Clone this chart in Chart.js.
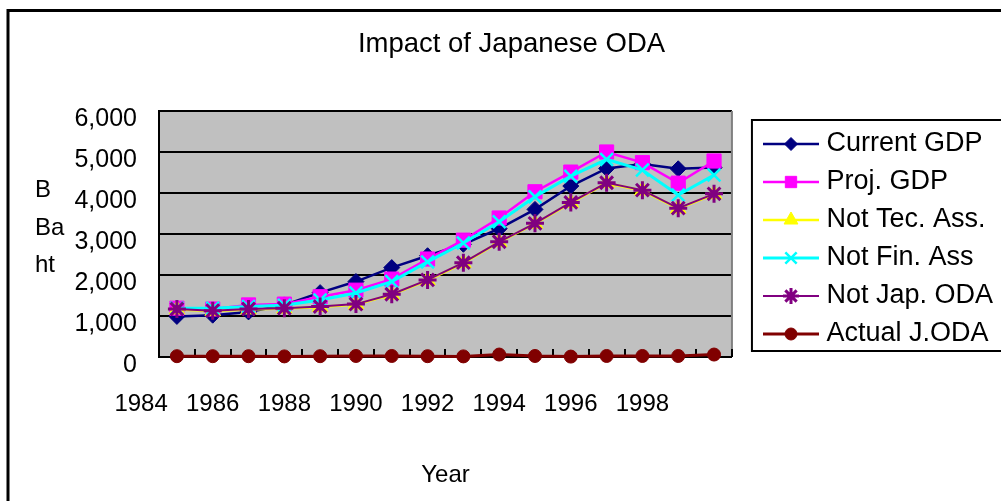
<!DOCTYPE html>
<html>
<head>
<meta charset="utf-8">
<title>Impact of Japanese ODA</title>
<script src="https://cdn.jsdelivr.net/npm/chart.js@4/dist/chart.umd.min.js"></script>
<style>
  html, body { margin: 0; padding: 0; background: #fff; overflow: hidden; }
  #wrap { position: absolute; left: 0; top: 0; width: 1022px; height: 520px; }
</style>
</head>
<body>
<div id="wrap"><canvas id="odaChart" width="1022" height="520"></canvas></div>
<script>
// data (Billion Baht)
var years = [1985, 1986, 1987, 1988, 1989, 1990, 1991, 1992, 1993, 1994, 1995, 1996, 1997, 1998, 1999, 2000];
var currentGDP = [990, 1020, 1100, 1270, 1570, 1840, 2180, 2470, 2750, 3130, 3600, 4170, 4600, 4710, 4590, 4620];
var projGDP = [1190, 1170, 1270, 1290, 1470, 1630, 1900, 2390, 2850, 3390, 4030, 4510, 5000, 4740, 4240, 4780];
var notTecAss = [1160, 1120, 1160, 1180, 1220, 1280, 1520, 1870, 2290, 2800, 3250, 3760, 4240, 4060, 3620, 3970];
var notFinAss = [1190, 1190, 1230, 1260, 1390, 1560, 1840, 2320, 2780, 3300, 3910, 4410, 4820, 4560, 3950, 4440];
var notJapODA = [1170, 1130, 1170, 1190, 1230, 1290, 1530, 1880, 2300, 2810, 3260, 3770, 4250, 4070, 3630, 3980];
var actualJODA = [20, 20, 20, 15, 20, 25, 25, 20, 15, 60, 25, 10, 25, 25, 25, 60];

var xTickYears = [1984, 1986, 1988, 1990, 1992, 1994, 1996, 1998];
var yTickValues = [0, 1000, 2000, 3000, 4000, 5000, 6000];
var yTitleLines = ['B', 'Ba', 'ht'];

var FONT = "'Liberation Sans', Arial, sans-serif";
Chart.defaults.font.family = FONT;
Chart.defaults.color = '#000';

function toPoints(values) {
  return values.map(function (v, i) { return { x: years[i], y: v }; });
}

function series(label, values, color, style, radius, legendRadius, width, markWidth, order) {
  return {
    label: label,
    data: toPoints(values),
    borderColor: color,
    backgroundColor: color,
    borderWidth: width,
    pointStyle: style,
    pointRadius: radius,
    pointBackgroundColor: color,
    pointBorderColor: color,
    pointBorderWidth: markWidth,
    legendRadius: legendRadius,
    tension: 0,
    clip: false,
    order: order
  };
}

var datasets = [
  series('Current GDP', currentGDP, '#000080', 'rectRot', 8, 6.5, 2.5, 1, 10),
  series('Proj. GDP', projGDP, '#ff00ff', 'rect', 10, 8, 2.5, 1, 9),
  series('Not Tec. Ass.', notTecAss, '#ffff00', 'triangle', 9, 8, 2.5, 1, 8),
  series('Not Fin. Ass', notFinAss, '#00ffff', 'crossRot', 9, 8, 3, 2.5, 7),
  series('Not Jap. ODA', notJapODA, '#800080', 'star', 9, 8, 2, 3, 6),
  series('Actual J.ODA', actualJODA, '#800000', 'circle', 6.5, 6, 3, 1, 5)
];

// little "line + marker" pictures for the legend, like Excel draws them
var legendIcons = datasets.map(function (ds) {
  var c = document.createElement('canvas');
  c.width = 56;
  c.height = 24;
  var g = c.getContext('2d');
  g.strokeStyle = ds.borderColor;
  g.lineWidth = ds.borderWidth;
  g.beginPath();
  g.moveTo(0, 12);
  g.lineTo(56, 12);
  g.stroke();
  g.fillStyle = ds.pointBackgroundColor;
  g.strokeStyle = ds.pointBorderColor;
  g.lineWidth = ds.pointBorderWidth;
  Chart.helpers.drawPoint(g, {
    pointStyle: ds.pointStyle,
    radius: ds.legendRadius,
    rotation: 0,
    borderWidth: ds.pointBorderWidth
  }, 28, 12);
  return c;
});

var excelLook = {
  id: 'excelLook',
  afterLayout: function (chart) {
    // Excel sits the legend a touch lower than dead centre
    chart.legend.top += 5;
    chart.legend.bottom += 5;
  },
  beforeDraw: function (chart) {
    var ctx = chart.ctx, a = chart.chartArea;
    ctx.save();
    ctx.fillStyle = '#fff';
    ctx.fillRect(0, 0, chart.width, chart.height);
    ctx.fillStyle = '#c0c0c0';
    ctx.fillRect(a.left, a.top, a.right - a.left, a.bottom - a.top);
    ctx.strokeStyle = '#000';
    ctx.lineWidth = 3;
    ctx.strokeRect(8, 10.5, chart.width - 16, chart.height - 16);
    ctx.restore();
  },
  beforeDatasetsDraw: function (chart) {
    var ctx = chart.ctx, a = chart.chartArea, xs = chart.scales.x;
    ctx.save();
    ctx.strokeStyle = '#808080';
    ctx.lineWidth = 2;
    ctx.beginPath();
    ctx.moveTo(a.right, a.top);
    ctx.lineTo(a.right, a.bottom);
    ctx.stroke();
    // inside tick marks between categories
    ctx.strokeStyle = '#000';
    ctx.beginPath();
    years.forEach(function (yr) {
      var px = Math.round(xs.getPixelForValue(yr + 0.5));
      ctx.moveTo(px, a.bottom);
      ctx.lineTo(px, a.bottom - 8);
    });
    ctx.stroke();
    ctx.restore();
  },
  afterDraw: function (chart) {
    var ctx = chart.ctx, lg = chart.legend, boxes = lg.legendHitBoxes;
    var first = boxes[0], last = boxes[boxes.length - 1];
    ctx.save();
    ctx.strokeStyle = '#000';
    ctx.lineWidth = 2;
    ctx.strokeRect(lg.left - 6, first.top - 10.5, chart.width, last.top + last.height - first.top + 14);
    ctx.fillStyle = '#000';
    ctx.font = '24px ' + FONT;
    ctx.textAlign = 'left';
    ctx.textBaseline = 'alphabetic';
    yTitleLines.forEach(function (t, i) {
      ctx.fillText(t, 35, 197 + i * 37.5);
    });
    ctx.restore();
  }
};

var ctx = document.getElementById('odaChart');
new Chart(ctx, {
  type: 'line',
  data: { datasets: datasets },
  plugins: [excelLook],
  options: {
    responsive: false,
    devicePixelRatio: 1,
    animation: false,
    events: [],
    layout: { padding: { left: 20, right: 19, top: 0, bottom: 0 } },
    plugins: {
      tooltip: { enabled: false },
      title: {
        display: true,
        text: 'Impact of Japanese ODA',
        color: '#000',
        font: { size: 27.5, weight: 'normal' },
        padding: { top: 28, bottom: 50 }
      },
      legend: {
        display: true,
        position: 'right',
        fullSize: false,
        maxWidth: 300,
        labels: {
          color: '#000',
          font: { size: 27 },
          usePointStyle: true,
          pointStyleWidth: 44,
          padding: 11,
          sort: function (a, b) { return a.datasetIndex - b.datasetIndex; },
          generateLabels: function (chart) {
            var items = Chart.defaults.plugins.legend.labels.generateLabels(chart);
            items.forEach(function (it) { it.pointStyle = legendIcons[it.datasetIndex]; });
            return items;
          }
        }
      }
    },
    scales: {
      x: {
        type: 'linear',
        min: years[0] - 0.5,
        max: years[years.length - 1] + 0.5,
        afterBuildTicks: function (scale) {
          scale.ticks = xTickYears.map(function (v) { return { value: v }; });
        },
        afterFit: function (scale) { scale.height = 163; },
        grid: { display: false, drawTicks: false },
        border: { display: true, color: '#000', width: 2 },
        ticks: {
          autoSkip: false,
          maxRotation: 0,
          padding: 33,
          font: { size: 24 },
          callback: function (v) { return String(v); }
        },
        title: {
          display: true,
          text: 'Year',
          font: { size: 24 },
          padding: { top: 0, bottom: 30 }
        }
      },
      y: {
        min: 0,
        max: 6000,
        afterBuildTicks: function (scale) {
          scale.ticks = yTickValues.map(function (v) { return { value: v }; });
        },
        afterFit: function (scale) { scale.width = 139; },
        grid: { color: '#000', lineWidth: 2, drawTicks: false },
        border: { display: true, color: '#000', width: 2 },
        ticks: {
          padding: 22,
          labelOffset: 8,
          font: { size: 25 },
          callback: function (v) { return v.toLocaleString('en-US'); }
        }
      },
      gap: {
        type: 'linear',
        position: 'right',
        display: true,
        grid: { display: false, drawTicks: false },
        border: { display: false },
        ticks: { display: false },
        afterFit: function (scale) { scale.width = 26; }
      }
    }
  }
});
</script>
</body>
</html>
